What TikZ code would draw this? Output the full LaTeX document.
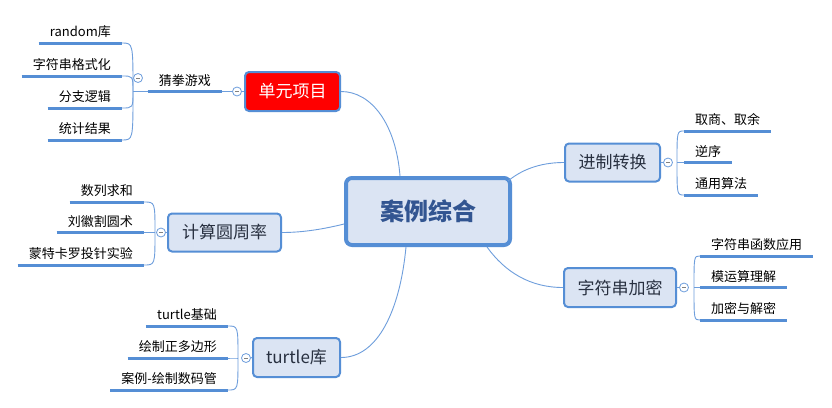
\documentclass[tikz,border=0pt]{standalone}
\usepackage{fontspec}
\setmainfont{Noto Sans CJK SC}
\usetikzlibrary{calc}
\definecolor{bord}{RGB}{85,142,213}
\definecolor{boxfill}{RGB}{219,228,243}
\definecolor{lconn}{RGB}{110,158,220}
\definecolor{ctext}{RGB}{50,85,145}
\definecolor{btext}{RGB}{40,48,64}
\tikzset{
 topic/.style={draw=bord, line width=2pt, fill=boxfill, rounded corners=4pt, text=btext,
   font=\fontsize{17}{20}\selectfont, inner sep=0pt},
 central/.style={draw=bord, line width=4pt, fill=boxfill, rounded corners=6pt, text=ctext,
   font=\fontsize{24}{28}\selectfont\bfseries, minimum width=164pt, minimum height=67pt},
 leaf/.style={inner xsep=11pt, inner ysep=4pt, text height=0.9em, text depth=0.2em,
   font=\fontsize{13}{15}\selectfont, text=black},
 uline/.style={draw=bord, line width=3pt},
 conn/.style={draw=lconn, line width=0.9pt},
 fold/.style={circle, draw=lconn, fill=white, line width=0.8pt, minimum size=9pt, inner sep=0pt,
   path picture={\draw[gray, line width=0.6pt] ([xshift=-2pt]path picture bounding box.center) -- ([xshift=2pt]path picture bounding box.center);}},
}
\begin{document}
\begin{tikzpicture}[x=1pt,y=-1pt]
\useasboundingbox[fill=white] (0,0) rectangle (832,407);

% central
\node[central] (c) at (428,211.5) {案例综合};

% 单元项目
\node[topic, fill=red, text=white, minimum width=95pt, minimum height=39pt] (u) at (292.5,91.5) {单元项目};
\node[fold] (fu) at (237,91.5) {};
\draw[conn] (u.west) -- (fu.east);
\node[leaf, anchor=south east] (g) at (222,91.5) {猜拳游戏};
\draw[uline] (g.south west) -- (g.south east);
\draw[conn] (g.south east) -- (fu.west);
\coordinate (hg) at (133,91.5);
\draw[conn] (hg) -- (g.south west);
\node[leaf, anchor=south east] (g1) at (122,43) {random库};
\node[leaf, anchor=south east] (g2) at (122,76) {字符串格式化};
\node[leaf, anchor=south east] (g3) at (122,108) {分支逻辑};
\node[leaf, anchor=south east] (g4) at (122,140) {统计结果};
\foreach \n in {g1,g2,g3,g4}{
  \draw[uline] (\n.south west) -- (\n.south east);
  \draw[conn] (hg) .. controls (hg |- \n.south east) .. (\n.south east);
}
\node[fold] (fg) at (138,78) {};

% 计算圆周率
\node[topic, minimum width=113pt, minimum height=38pt] (p) at (224.5,232.5) {计算圆周率};
\node[leaf, anchor=south east] (p1) at (144,202) {数列求和};
\node[leaf, anchor=south east] (p2) at (144,232.5) {刘徽割圆术};
\node[leaf, anchor=south east] (p3) at (144,265) {蒙特卡罗投针实验};
\coordinate (hp) at (155,232.5);
\foreach \n in {p1,p2,p3}{
  \draw[uline] (\n.south west) -- (\n.south east);
  \draw[conn] (hp) .. controls (hp |- \n.south east) .. (\n.south east);
}
\node[fold] (fp) at (161,232.5) {};
\draw[conn] (p.west) -- (fp.east);

% turtle库
\node[topic, minimum width=87pt, minimum height=39pt] (t) at (296.5,357.5) {turtle库};
\node[leaf, anchor=south east] (t1) at (228,326) {turtle基础};
\node[leaf, anchor=south east] (t2) at (228,358) {绘制正多边形};
\node[leaf, anchor=south east] (t3) at (228,390) {案例-绘制数码管};
\coordinate (ht) at (238,358);
\foreach \n in {t1,t2,t3}{
  \draw[uline] (\n.south west) -- (\n.south east);
  \draw[conn] (ht) .. controls (ht |- \n.south east) .. (\n.south east);
}
\node[fold] (ft) at (246,358) {};
\draw[conn] (t.west) -- (ft.east);

% 进制转换
\node[topic, minimum width=95pt, minimum height=38pt] (j) at (612.5,162.5) {进制转换};
\node[leaf, anchor=south west] (j1) at (684,131) {取商、取余};
\node[leaf, anchor=south west] (j2) at (684,162.5) {逆序};
\node[leaf, anchor=south west] (j3) at (684,195) {通用算法};
\coordinate (hj) at (677,162.5);
\foreach \n in {j1,j2,j3}{
  \draw[uline] (\n.south west) -- (\n.south east);
  \draw[conn] (hj) .. controls (hj |- \n.south west) .. (\n.south west);
}
\node[fold] (fj) at (668,162.5) {};
\draw[conn] (j.east) -- (fj.west);

% 字符串加密
\node[topic, minimum width=112pt, minimum height=39pt] (s) at (620,287.5) {字符串加密};
\node[leaf, anchor=south west] (s1) at (700,256) {字符串函数应用};
\node[leaf, anchor=south west] (s2) at (700,287.5) {模运算理解};
\node[leaf, anchor=south west] (s3) at (700,320) {加密与解密};
\coordinate (hs) at (694,287.5);
\foreach \n in {s1,s2,s3}{
  \draw[uline] (\n.south west) -- (\n.south east);
  \draw[conn] (hs) .. controls (hs |- \n.south west) .. (\n.south west);
}
\node[fold] (fs) at (684,287.5) {};
\draw[conn] (s.east) -- (fs.west);

% main connectors
\coordinate (cu) at ($(c.north west)+(56,0)$);
\coordinate (cj) at (508,181);
\coordinate (cp) at ($(c.west)+(0,12.5)$);
\coordinate (ct) at ($(c.south west)+(62,0)$);
\coordinate (cs) at ($(c.south west)+(143,0)$);
\draw[conn] (u.east) .. controls (372,91.5) and (396,125) .. (cu);
\draw[conn] (cj) .. controls (525,167) and (545,162.5) .. (j.west);
\draw[conn] (cp) .. controls (320,230) and (300,232.5) .. (p.east);
\draw[conn] (ct) .. controls (400,310) and (378,357.5) .. (t.east);
\draw[conn] (cs) .. controls (505,272) and (530,287.5) .. (s.west);
\end{tikzpicture}
\end{document}
